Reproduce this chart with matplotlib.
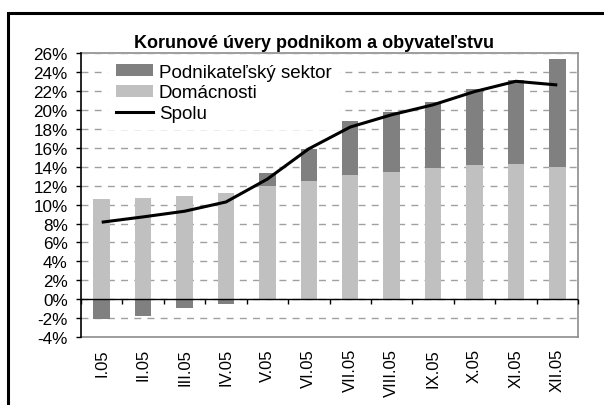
import numpy as np
import matplotlib
matplotlib.use("Agg")
import matplotlib.pyplot as plt
from matplotlib.patches import Rectangle, Patch
from matplotlib.lines import Line2D
from matplotlib.ticker import FuncFormatter

plt.rcParams['font.family'] = ['Liberation Sans', 'DejaVu Sans']

categories = ["I.05", "II.05", "III.05", "IV.05", "V.05", "VI.05",
              "VII.05", "VIII.05", "IX.05", "X.05", "XI.05", "XII.05"]
domacnosti = [10.63, 10.74, 10.95, 11.26, 11.98, 12.50,
              13.13, 13.45, 13.87, 14.14, 14.25, 13.96]
podnikatelsky = [-2.14, -1.82, -0.96, -0.46, 1.35, 3.43,
                 5.76, 6.39, 7.02, 8.11, 8.95, 11.46]
spolu = [8.14, 8.70, 9.30, 10.28, 12.70, 15.90,
         18.20, 19.50, 20.55, 21.95, 23.04, 22.65]
y_ticks = list(range(-4, 27, 2))

title = "Korunové úvery podnikom a obyvateľstvu"
labels = ["Podnikateľský sektor", "Domácnosti", "Spolu"]

W, H, DPI = 604, 406, 100
fig = plt.figure(figsize=(W / DPI, H / DPI), dpi=DPI)
fig.patch.set_facecolor("white")

left, right, top, bottom = 81 / W, 578 / W, 1 - 54.3 / H, 1 - 338 / H
pos = [left, bottom, right - left, top - bottom]

frame_gray = "#8c8c8c"
grid_gray = "#a0a0a0"
dark = "#808080"
light = "#c0c0c0"

# frame axes (behind)
fax = fig.add_axes(pos, zorder=0)
fax.set_xticks([]); fax.set_yticks([])
for s in ["top", "right", "bottom"]:
    fax.spines[s].set_color(frame_gray)
    fax.spines[s].set_linewidth(1.2)
fax.spines["left"].set_visible(False)

ax = fig.add_axes(pos, zorder=1)
ax.patch.set_alpha(0)
x = np.arange(len(categories))
dom = np.array(domacnosti)
pod = np.array(podnikatelsky)
ax.set_xlim(-0.5, len(categories) - 0.5)
ax.set_ylim(y_ticks[0], y_ticks[-1])

ax.set_axisbelow(True)
ax.yaxis.grid(True, color=grid_gray, linestyle=(0, (5, 4.5)), linewidth=1.0)
ax.xaxis.grid(False)

bw = 0.4
ax.bar(x, dom, width=bw, color=light, zorder=2)
pod_bottom = np.where(pod >= 0, dom, 0)
ax.bar(x, pod, width=bw, bottom=pod_bottom, color=dark, zorder=2)
ax.plot(x, spolu, color="black", linewidth=2.2, zorder=4, solid_capstyle="butt")

ax.axhline(0, color="black", linewidth=1.0, zorder=3)

ax.set_yticks(y_ticks)
ax.yaxis.set_major_formatter(FuncFormatter(lambda v, p: f"{v:.0f}%"))
ax.tick_params(axis="y", direction="out", length=3.6, width=1.0, pad=6.0,
               labelsize=12.3, color="black")
ax.set_xticks(x)
ax.set_xticklabels(categories, rotation=90, fontsize=12)
ax.tick_params(axis="x", length=0, pad=8)

for s in ["top", "right", "bottom"]:
    ax.spines[s].set_visible(False)
ax.spines["left"].set_color("black")
ax.spines["left"].set_linewidth(1.2)

# boundary ticks on the zero line
frac0 = (0 - y_ticks[0]) / (y_ticks[-1] - y_ticks[0])
sec = ax.secondary_xaxis(frac0)
sec.set_xticks(np.arange(len(categories) + 1) - 0.5)
sec.set_xticklabels([])
sec.tick_params(axis="x", direction="out", length=3.6, width=1.0, color="black")
sec.spines["bottom"].set_visible(False)

handles = [Patch(facecolor=dark, edgecolor="none"),
           Patch(facecolor=light, edgecolor="none"),
           Line2D([0], [0], color="black", linewidth=2.2)]
leg = ax.legend(handles, labels, loc="upper left",
                bbox_to_anchor=((108 - 81) / (578 - 81), 1 - (57 - 54.3) / (338 - 54.3)),
                fontsize=13.5, frameon=True, fancybox=False, borderpad=0.4,
                handlelength=2.0, handleheight=0.6, handletextpad=0.3,
                labelspacing=0.2, borderaxespad=0)
leg.get_frame().set_facecolor("white")
leg.get_frame().set_edgecolor("none")
leg.get_frame().set_alpha(1)
leg.set_zorder(5)

fig.text(313.5 / W, 1 - 43.5 / H, title, ha="center", va="center",
         fontsize=13, fontweight="bold")

# outer border
fig.patches.append(Rectangle((8 / W, -0.1), 1.2, 1 - 13.5 / H + 0.1,
                             transform=fig.transFigure, fill=False,
                             edgecolor="black", linewidth=2.2, clip_on=False))

fig.savefig("out.png", dpi=DPI)
